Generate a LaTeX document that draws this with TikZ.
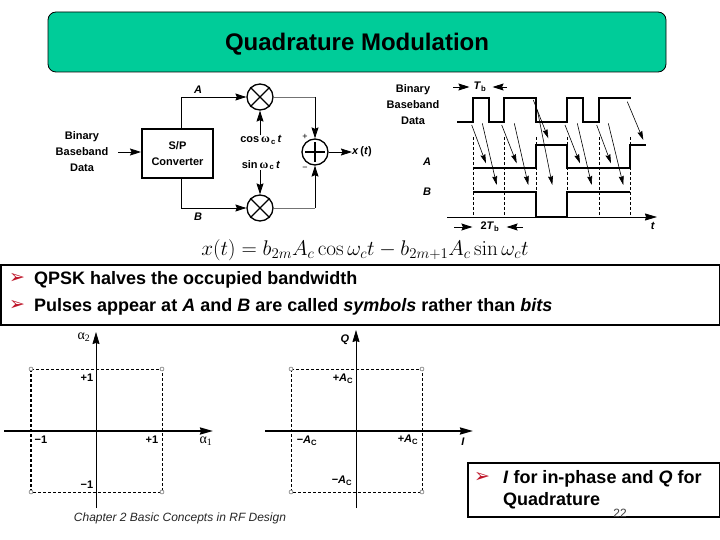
\documentclass[tikz,border=0pt]{standalone}
\usepackage[no-math]{fontspec}
\usepackage{fix-cm}
\setmainfont{Liberation Sans}
\newfontfamily\symfont{Liberation Serif}
\newfontfamily\dingfont{DejaVu Sans}
\usetikzlibrary{positioning,arrows.meta,calc}
\definecolor{titlegreen}{RGB}{0,204,153}
\definecolor{bulletred}{RGB}{190,20,40}
\newcommand{\bulletmark}{{\dingfont\color{bulletred}➢}}

\begin{document}
\begin{tikzpicture}[
    x=1pt,y=-1pt,
    >={Stealth[length=11pt,width=7pt,inset=1.5pt]},
    font=\fontsize{11}{16}\selectfont\bfseries,
    titlebox/.style={
        draw=black,
        rounded corners=8pt,
        line width=0.8pt,
        fill=titlegreen,
        minimum width=618pt,
        minimum height=60pt
    },
    textbox/.style={
        draw=black,
        line width=2pt,
        fill=white,
        anchor=north west,
        inner sep=0pt
    },
    bullettext/.style={
        anchor=west,
        inner sep=0pt,
        font=\fontsize{18}{22}\selectfont\bfseries
    },
    markstyle/.style={inner sep=0pt,font=\fontsize{19}{19}\selectfont},
    label/.style={inner sep=0pt,align=center},
    mixer/.style={
        draw=black,
        circle,
        line width=1.3pt,
        minimum size=26pt,
        inner sep=0pt
    },
    conv/.style={
        draw=black,
        line width=2pt,
        minimum width=71pt,
        minimum height=49pt,
        align=center,
        inner sep=0pt
    },
    arr/.style={->,line width=0.8pt},
    grayline/.style={line width=0.8pt,black!55},
    wave/.style={line width=2pt},
    grid/.style={densely dashed,line width=0.6pt},
    bit/.style={-{Stealth[length=9pt,width=5pt,inset=1pt]},line width=0.6pt},
    corner/.style={draw=black!70,fill=white,circle,line width=0.4pt,inner sep=0pt,minimum size=4pt},
    axisthick/.style={-{Stealth[length=13pt,width=7pt,inset=1pt]},line width=2pt},
    axisthin/.style={-{Stealth[length=12pt,width=7pt,inset=1pt]},line width=0.8pt}
]
\useasboundingbox (0,0) rectangle (720,540);

\node[titlebox] (title) at (357,42) {};
\node[inner sep=0pt,font=\fontsize{24}{28}\selectfont\bfseries] (titletext) at (357,44.5) {Quadrature Modulation};

% block diagram
\node[conv] (conv) at (177.5,153.5) {S/P\\Converter};
\node[mixer] (mixa) at (260,97) {};
\node[mixer] (mixb) at (260,208) {};
\node[mixer] (adder) at (315,152) {};
\draw[line width=1.3pt] (mixa.north west) -- (mixa.south east) (mixa.north east) -- (mixa.south west);
\draw[line width=1.3pt] (mixb.north west) -- (mixb.south east) (mixb.north east) -- (mixb.south west);
\draw[line width=1.3pt] ([yshift=-4pt]adder.north) -- ([yshift=4pt]adder.south);
\draw[line width=1.3pt] ([xshift=4pt]adder.west) -- ([xshift=-4pt]adder.east);

\node[label] (input) at (82,152) {Binary\\Baseband\\Data};
\node[label] (lblcos) at (261,140) {cos\,{\fontsize{12}{12}\selectfont\symfont ω}\textsubscript{\,c}\,\textit{t}};
\node[label] (lblsin) at (261,165) {sin\,{\fontsize{12}{12}\selectfont\symfont ω}\textsubscript{\,c}\,\textit{t}};
\node[label] (lbla) at (198,90) {\textit{A}};
\node[label] (lblb) at (198,217) {\textit{B}};
\node[label] (out) at (362,152) {\textit{x}\,(\textit{t})};
\node[label,font=\fontsize{9}{9}\selectfont] (plus) at (305,137) {+};
\node[label,font=\fontsize{9}{9}\selectfont] (minus) at (305,169) {−};

\coordinate (inleft) at (118,152);
\coordinate (cornera) at (315,97);
\coordinate (cornerb) at (315,208);

\draw[arr] (inleft) -- (conv.west |- inleft);
\draw[arr] (conv.north -| 181.5,0) |- (mixa.west);
\draw[arr] (conv.south -| 181.5,0) |- (mixb.west);
\draw[arr] (lblcos.north -| mixa) -- (mixa.south);
\draw[arr] (lblsin.south -| mixb) -- (mixb.north);
\draw[grayline] (mixa.east) -- (cornera);
\draw[grayline] (mixb.east) -- (cornerb);
\draw[arr] (cornera) -- (adder.north);
\draw[arr] (cornerb) -- (adder.south);
\draw[arr] (adder.east) -- (out.west);

% waveforms
\node[label] (data) at (413,105) {Binary\\Baseband\\Data};
\node[label] (wavea) at (427,162) {\textit{A}};
\node[label] (waveb) at (427,192) {\textit{B}};
\node[label] (tb) at (480,87) {\textit{T}\textsubscript{b}};
\node[label] (twotb) at (490,227) {2\textit{T}\textsubscript{b}};
\node[label] (tlabel) at (653,226) {\textit{t}};

\coordinate (tbl) at (453,87);
\coordinate (tbr) at (507,87);
\coordinate (twol) at (454,227);
\coordinate (twor) at (523,227);
\draw[arr,shorten >=4pt] (tbl) -- (tb.west);
\draw[arr,shorten >=6pt] (tbr) -- (tb.east);
\draw[arr,shorten >=8pt] (twol) -- (twotb.west);
\draw[arr,shorten >=7pt] (twor) -- (twotb.east);

\foreach \x in {473,504,536,567,599,630}
    \draw[grid] (\x,137) -- (\x,217);

\draw[wave] (457,122) -- (473,122) -- (473,98) -- (489,98) -- (489,122) -- (504,122) -- (504,98)
    -- (536,98) -- (536,122) -- (567,122) -- (567,98) -- (583,98) -- (583,122) -- (599,122) -- (599,98) -- (631,98);
\draw[wave] (473,168) -- (536,168) -- (536,145) -- (567,145) -- (567,168) -- (630,168) -- (630,145) -- (646,145);
\draw[wave] (473,192) -- (536,192) -- (536,217) -- (567,217) -- (567,192) -- (630,192);
\draw[axisthin] (447,217) -- (657,217);

\foreach \xa/\ya/\xb/\yb in {
    471.7/125/486/163.3, 482.3/123.3/496.7/185,
    501.7/125/516.7/163.3, 514.3/123.3/528.3/185,
    533.3/100/548.3/138.3, 537.3/110/552.3/185,
    565/125/580/163.3, 577.3/123.3/591.7/185,
    596.7/125/611/163.3, 608.3/123.3/623.3/185,
    627.3/101.7/643.3/140}
    \draw[bit] (\xa,\ya) -- (\xb,\yb);

\node[inner sep=0pt,font=\fontsize{21.2}{24}\selectfont\mdseries] (formula) at (365,250.5)
    {$x(t)=b_{2m}A_c\cos\omega_c t-b_{2m+1}A_c\sin\omega_c t$};

% first text box
\node[textbox,minimum width=719pt,minimum height=60pt] (bulletbox) at (0,264) {};
\node[bullettext] (lineone) at (34,279.5) {QPSK halves the occupied bandwidth};
\node[bullettext] (linetwo) at (34,306.5) {Pulses appear at \textit{A} and \textit{B} are called \textit{symbols} rather than \textit{bits}};
\node[markstyle] (markone) at (17,278) {\bulletmark};
\node[markstyle] (marktwo) at (17,305) {\bulletmark};

% left constellation
\draw[axisthick] (4,431) -- (213,431);
\draw[axisthin] (96,508) -- (96,332);
\draw[grid] (31,369) -- (162,369) -- (162,492) -- (31,492);
\draw[densely dashed,line width=1.4pt] (31,369) -- (31,492);
\node[corner] (la) at (31,369) {};
\node[corner] (lb) at (162,369) {};
\node[corner] (lc) at (162,492) {};
\node[corner] (ld) at (31,492) {};
\node[label] (lup) at (87,378) {+1};
\node[label] (lleft) at (41,440) {−1};
\node[label] (lright) at (152,440) {+1};
\node[label] (ldown) at (87,485) {−1};
\node[label,font=\fontsize{14}{14}\selectfont\mdseries\symfont] (alphatwo) at (84,337) {α\textsubscript{2}};
\node[label,font=\fontsize{14}{14}\selectfont\mdseries\symfont] (alphaone) at (206,441) {α\textsubscript{1}};

% right constellation
\draw[axisthick] (265,431) -- (473,431);
\draw[axisthin] (356,508) -- (356,330);
\draw[grid] (291,369) rectangle (422,492);
\node[corner] (ra) at (291,369) {};
\node[corner] (rb) at (422,369) {};
\node[corner] (rc) at (422,492) {};
\node[corner] (rd) at (291,492) {};
\node[label] (rup) at (343,379) {+\textit{A}\textsubscript{C}};
\node[label] (rleft) at (307,441) {−\textit{A}\textsubscript{C}};
\node[label] (rright) at (408,440) {+\textit{A}\textsubscript{C}};
\node[label] (rdown) at (342,481) {−\textit{A}\textsubscript{C}};
\node[label] (qlabel) at (345,340) {\textit{Q}};
\node[label] (ilabel) at (463,442) {\textit{I}};

% second text box
\node[textbox,minimum width=252pt,minimum height=54pt] (notebox) at (467,462) {};
\node[bullettext] (notea) at (503,478.5) {\textit{I} for in-phase and \textit{Q} for};
\node[bullettext] (noteb) at (503,500.5) {Quadrature};
\node[markstyle] (markthree) at (482,477) {\bulletmark};
\node[inner sep=0pt,font=\fontsize{12}{12}\selectfont\mdseries,text=black!75] (pagenum) at (620,513) {22};
\node[inner sep=0pt,font=\fontsize{12}{12}\selectfont\mdseries\itshape,text=black!85] (chapter) at (180,518) {Chapter 2 Basic Concepts in RF Design};
\end{tikzpicture}
\end{document}
